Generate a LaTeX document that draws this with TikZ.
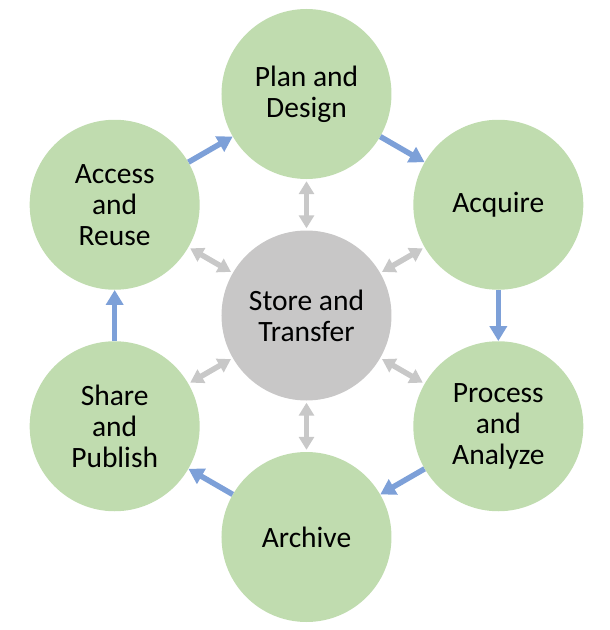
\documentclass[tikz,border=0pt]{standalone}
\usepackage{fontspec}
\setmainfont{Carlito}
\usetikzlibrary{arrows.meta}

\definecolor{stageGreen}{RGB}{192,220,175}
\definecolor{hubGray}{RGB}{200,199,199}
\definecolor{flowBlue}{RGB}{125,160,216}
\definecolor{linkGray}{RGB}{200,200,200}

\begin{document}
\begin{tikzpicture}[x=1pt,y=1pt,
    stage/.style={circle, fill=stageGreen, minimum size=170pt, inner sep=0pt,
        align=center, font=\fontsize{29.5}{31}\selectfont},
    hub/.style={stage, fill=hubGray},
    flow/.style={draw=flowBlue, line width=5.5pt, -{Triangle[width=17pt,length=15pt]}},
    link/.style={draw=linkGray, line width=5.5pt,
        {Triangle[width=15pt,length=13pt]}-{Triangle[width=15pt,length=13pt]},
        shorten <=2pt, shorten >=2pt}]

    % --- Frame ---
    \useasboundingbox (-306.5,-314.5) rectangle (303.5,315.5);

    % --- Centre ---
    \node[hub] (store) at (0,0) {Store and\\Transfer};

    % --- Stages on the ring ---
    \node[stage] (plan)    at (90:221.5)  {Plan and\\Design};
    \node[stage] (acquire) at (30:221.5)  {Acquire};
    \node[stage] (process) at (-30:221.5) {Process\\and\\Analyze};
    \node[stage] (archive) at (-90:221.5) {Archive};
    \node[stage] (share)   at (210:221.5) {Share\\and\\Publish};
    \node[stage] (access)  at (150:221.5) {Access\\and\\Reuse};

    % --- Cycle arrows ---
    \draw[flow] (plan) -- (acquire);
    \draw[flow] (acquire) -- (process);
    \draw[flow] (process) -- (archive);
    \draw[flow] (archive) -- (share);
    \draw[flow] (share) -- (access);
    \draw[flow] (access) -- (plan);

    % --- Links to the centre ---
    \draw[link] (store) -- (plan);
    \draw[link] (store) -- (acquire);
    \draw[link] (store) -- (process);
    \draw[link] (store) -- (archive);
    \draw[link] (store) -- (share);
    \draw[link] (store) -- (access);

\end{tikzpicture}
\end{document}
